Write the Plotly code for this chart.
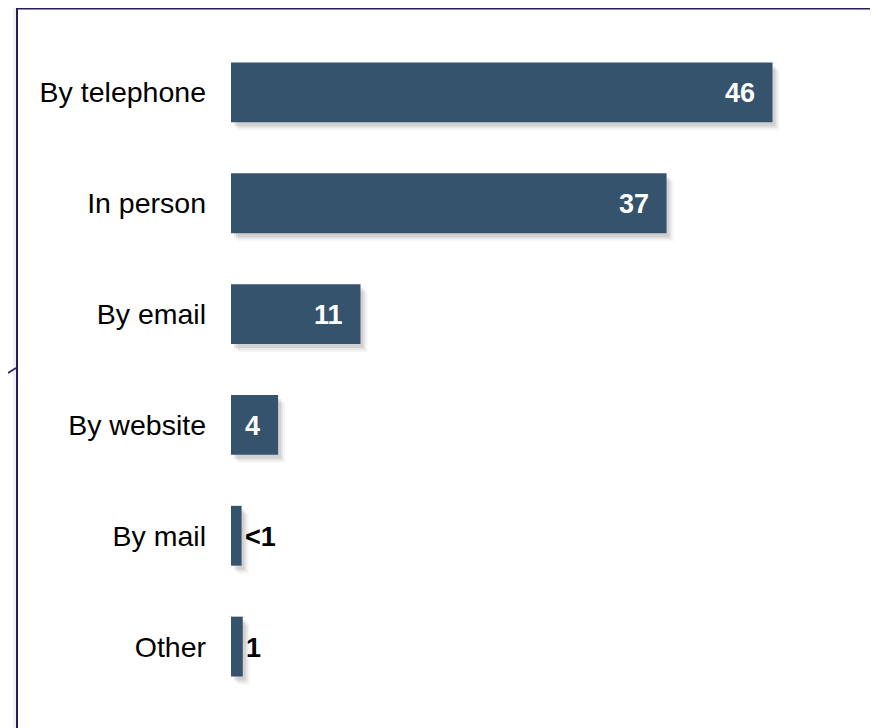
import plotly.graph_objects as go

categories = ["By telephone", "In person", "By email", "By website", "By mail", "Other"]
values = [46, 37, 11, 4, 0.9, 1]
value_labels = ["46", "37", "11", "4", "<1", "1"]
inside_flags = [True, True, True, True, False, False]

BAR_COLOR = "#35536D"
BORDER_COLOR = "#2B1B5E"
FONT = "Liberation Sans, Arial, sans-serif"

W, H = 870, 720
ML, MR, MT, MB = 223, 16, 28.5, 25.5
XMAX = 53.6
px_per_x = (W - ML - MR) / XMAX
px_per_cat = (H - MT - MB) / len(categories)

BAR_W = 0.54
BAR_OFF = -BAR_W / 2

fig = go.Figure()

# soft drop shadows (layered)
for dx, dy, a in [(7, 8, 0.04), (5, 6, 0.06), (3, 4, 0.09)]:
    fig.add_trace(go.Bar(
        y=categories, x=values, orientation="h",
        base=dx / px_per_x,
        width=BAR_W, offset=BAR_OFF + dy / px_per_cat,
        marker=dict(color=f"rgba(0,0,0,{a})", line=dict(width=0)),
        hoverinfo="skip", showlegend=False,
    ))

fig.add_trace(go.Bar(
    y=categories, x=values, orientation="h",
    width=BAR_W, offset=BAR_OFF,
    marker=dict(color=BAR_COLOR, line=dict(width=0)),
    showlegend=False,
))

for cat, v, lab, inside in zip(categories, values, value_labels, inside_flags):
    if inside:
        fig.add_annotation(x=v, y=cat, text=f"<b>{lab}</b>", showarrow=False,
                           xanchor="right", xshift=-16, yshift=-1,
                           font=dict(family=FONT, size=27, color="white"))
    else:
        fig.add_annotation(x=v, y=cat, text=f"<b>{lab}</b>", showarrow=False,
                           xanchor="left", xshift=1, yshift=-1,
                           font=dict(family=FONT, size=27, color="black"))

def px_to_paper_x(px):
    return (px - ML) / (W - ML - MR)

def px_to_paper_y(py):
    return (H - MB - py) / (H - MT - MB)

# frame shadow and frame
fig.add_shape(type="rect", xref="paper", yref="paper",
              x0=px_to_paper_x(6.5), x1=px_to_paper_x(880),
              y0=px_to_paper_y(760), y1=px_to_paper_y(-10),
              line=dict(color="rgba(0,0,0,0.06)", width=3), layer="below")
fig.add_shape(type="rect", xref="paper", yref="paper",
              x0=px_to_paper_x(9), x1=px_to_paper_x(869),
              y0=px_to_paper_y(760), y1=px_to_paper_y(0),
              line=dict(color=BORDER_COLOR, width=2), layer="above")
fig.add_shape(type="line", xref="paper", yref="paper",
              x0=px_to_paper_x(0), x1=px_to_paper_x(8),
              y0=px_to_paper_y(365), y1=px_to_paper_y(360),
              line=dict(color=BORDER_COLOR, width=1.5))

fig.update_layout(
    width=W, height=H,
    margin=dict(l=ML, r=MR, t=MT, b=MB),
    barmode="overlay",
    plot_bgcolor="white", paper_bgcolor="white",
    font=dict(family=FONT, size=28.5, color="black"),
    xaxis=dict(range=[0, XMAX], visible=False, fixedrange=True),
    yaxis=dict(type="category", categoryorder="array", categoryarray=categories,
               autorange="reversed", showgrid=False, zeroline=False, showline=False,
               ticks="", ticklabelstandoff=24,
               tickfont=dict(family=FONT, size=28.5, color="black")),
)

fig.write_html("out.html")
